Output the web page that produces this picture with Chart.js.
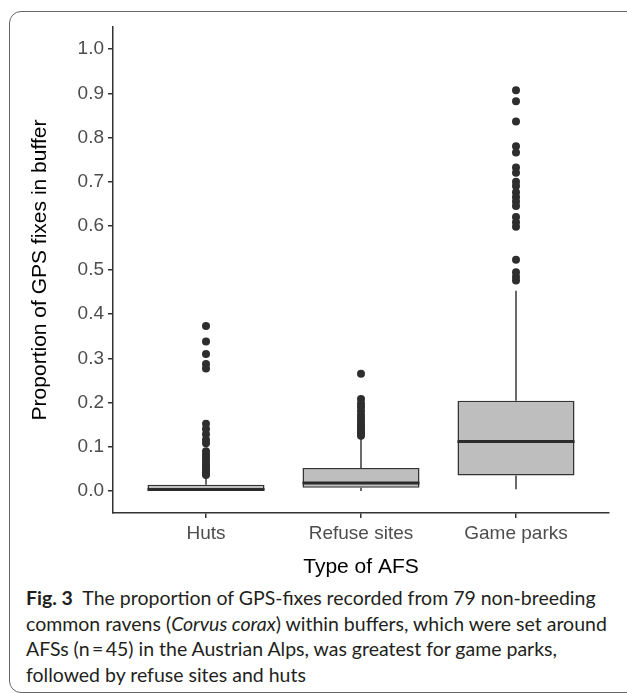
<!DOCTYPE html>
<html>
<head>
<meta charset="utf-8">
<script src="https://cdn.jsdelivr.net/npm/chart.js@4.4.0/dist/chart.umd.min.js"></script>
<style>
  body { margin: 0; background: #fff; width: 627px; height: 693px; overflow: hidden; position: relative; }
  #frame { position: absolute; left: 9px; top: 11px; width: 660px; height: 682px; border: 1.5px solid #666; border-radius: 12px; box-sizing: border-box; }
  #wrap { position: absolute; left: 0; top: 0; width: 627px; height: 585px; }
  #caption { position: absolute; left: 26px; top: 585px; font-family: Lato, "Open Sans", sans-serif; font-size: 18px; line-height: 25.5px; color: #231f20; white-space: nowrap; }
</style>
</head>
<body>
<div id="frame"></div>
<div id="wrap"><canvas id="boxChart"></canvas></div>
<div id="caption">
  <b>Fig. 3</b>&nbsp; The proportion of GPS-fixes recorded from 79 non-breeding<br>
  <span id="line2">common ravens (<i>Corvus corax</i>) within buffers, which were set around</span><br>
  AFSs (n&thinsp;=&thinsp;45) in the Austrian Alps, was greatest for game parks,<br>
  followed by refuse sites and huts
</div>
<script>
// Categories and box statistics
const groups = ['Huts', 'Refuse sites', 'Game parks'];
const q1 = [0.0, 0.007, 0.035];
const medians = [0.003, 0.018, 0.112];
const q3 = [0.014, 0.052, 0.204];
const whiskerLow = [0.0, 0.0, 0.004];
const whiskerHigh = [0.03, 0.12, 0.453];

// Outliers
const hutsOutliers = [0.373, 0.338, 0.31, 0.287, 0.277, 0.152, 0.14, 0.128, 0.116, 0.108,
  0.09, 0.082, 0.075, 0.068, 0.061, 0.056, 0.05, 0.045, 0.04, 0.036];
const refuseOutliers = [0.265, 0.208, 0.198, 0.19, 0.181, 0.172, 0.165, 0.158, 0.151,
  0.145, 0.14, 0.135, 0.13, 0.125];
const gameParkOutliers = [0.907, 0.882, 0.836, 0.78, 0.766, 0.732, 0.72, 0.7, 0.69, 0.676,
  0.665, 0.655, 0.645, 0.62, 0.608, 0.598, 0.523, 0.495, 0.485, 0.476];

// Axis ticks
const yTickValues = [0, 0.1, 0.2, 0.3, 0.4, 0.5, 0.6, 0.7, 0.8, 0.9, 1.0];

var outlierPoints = [];
[hutsOutliers, refuseOutliers, gameParkOutliers].forEach(function (list, i) {
  list.forEach(function (v) { outlierPoints.push({ x: i, y: v }); });
});

// Whiskers behind the boxes, medians on top
const boxParts = {
  id: 'boxParts',
  beforeDatasetsDraw(chart) {
    const ctx = chart.ctx, x = chart.scales.x, y = chart.scales.y;
    ctx.save();
    ctx.strokeStyle = '#3a3a3a';
    ctx.lineWidth = 1.5;
    groups.forEach(function (g, i) {
      const px = x.getPixelForValue(i);
      ctx.beginPath();
      ctx.moveTo(px, y.getPixelForValue(q3[i]));
      ctx.lineTo(px, y.getPixelForValue(whiskerHigh[i]));
      ctx.moveTo(px, y.getPixelForValue(q1[i]));
      ctx.lineTo(px, y.getPixelForValue(whiskerLow[i]));
      ctx.stroke();
    });
    ctx.restore();
  },
  afterDatasetsDraw(chart) {
    const ctx = chart.ctx, y = chart.scales.y;
    const bars = chart.getDatasetMeta(0).data;
    ctx.save();
    ctx.strokeStyle = '#2b2b2b';
    ctx.lineWidth = 3;
    groups.forEach(function (g, i) {
      const bar = bars[i];
      const py = y.getPixelForValue(medians[i]);
      ctx.beginPath();
      ctx.moveTo(bar.x - bar.width / 2, py);
      ctx.lineTo(bar.x + bar.width / 2, py);
      ctx.stroke();
    });
    ctx.restore();
  }
};

var ctx = document.getElementById('boxChart').getContext('2d');
var myChart = new Chart(ctx, {
  type: 'bar',
  data: {
    datasets: [{
      label: 'IQR',
      data: groups.map(function (g, i) { return { x: i, y: [q1[i], q3[i]] }; }),
      backgroundColor: '#bebebe',
      borderColor: '#333333',
      borderWidth: 1.5,
      borderSkipped: false,
      categoryPercentage: 1,
      barPercentage: 0.755
    }, {
      type: 'scatter',
      label: 'Outliers',
      data: outlierPoints,
      pointRadius: 4,
      pointBackgroundColor: '#2e2e2e',
      pointBorderWidth: 0
    }]
  },
  options: {
    responsive: true,
    maintainAspectRatio: false,
    animation: false,
    layout: { padding: { left: 9, right: 18, top: 27, bottom: 2 } },
    plugins: { legend: { display: false }, tooltip: { enabled: false } },
    scales: {
      x: {
        type: 'linear',
        min: -0.6,
        max: 2.6,
        offset: false,
        afterBuildTicks: function (s) { s.ticks = groups.map(function (g, i) { return { value: i }; }); },
        afterFit: function (s) { s.height = 70; },
        ticks: {
          callback: function (v) { return groups[v]; },
          color: '#4d4d4d',
          font: { family: 'Liberation Sans', size: 19 },
          padding: 4,
          maxRotation: 0
        },
        grid: { display: true, drawOnChartArea: false, drawTicks: true, tickLength: 5, offset: false, color: '#333333', lineWidth: 1.5 },
        border: { display: true, color: '#333333', width: 1.5 },
        title: { display: true, text: 'Type of AFS', color: '#000', font: { family: 'Liberation Sans', size: 21 }, padding: { bottom: 3 } }
      },
      y: {
        min: -0.05,
        max: 1.05,
        afterBuildTicks: function (s) { s.ticks = yTickValues.map(function (v) { return { value: v }; }); },
        afterFit: function (s) { s.width = 104; },
        ticks: {
          callback: function (v) { return v.toFixed(1); },
          color: '#4d4d4d',
          font: { family: 'Liberation Sans', size: 19 },
          padding: 4
        },
        grid: { display: true, drawOnChartArea: false, drawTicks: true, tickLength: 5, color: '#333333', lineWidth: 1.5 },
        border: { display: true, color: '#333333', width: 1.5 },
        title: { display: true, text: 'Proportion of GPS fixes in buffer', color: '#000', font: { family: 'Liberation Sans', size: 21 }, padding: { top: 19 } }
      }
    }
  },
  plugins: [boxParts]
});

// Fit caption width to the reference line length
var line2 = document.getElementById('line2');
var cap = document.getElementById('caption');
cap.style.fontSize = (18 * 581 / line2.getBoundingClientRect().width) + 'px';
</script>
</body>
</html>
